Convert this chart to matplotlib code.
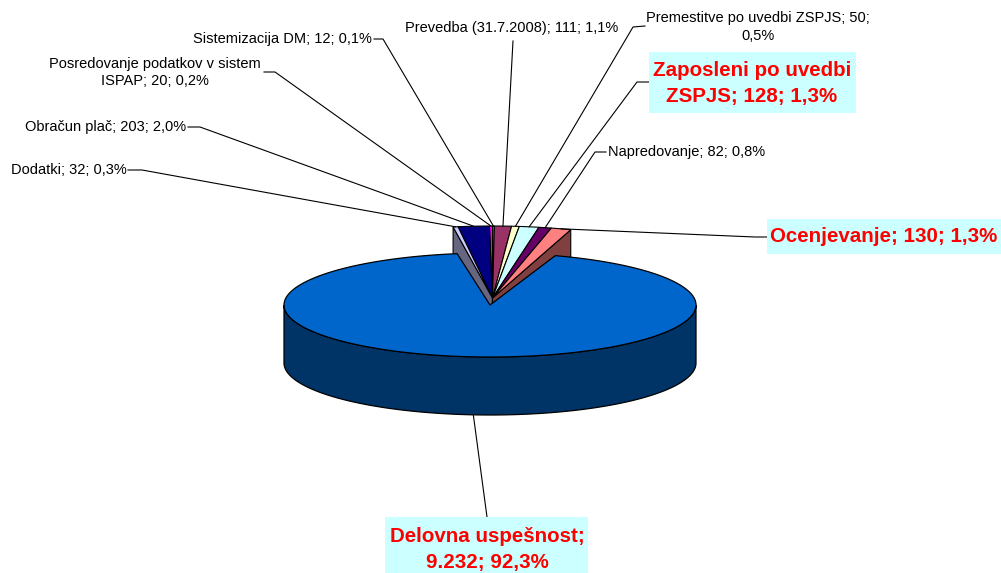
import numpy as np
import matplotlib.pyplot as plt
from matplotlib.patches import Polygon, Rectangle

plt.rcParams['font.family'] = ['Liberation Sans', 'DejaVu Sans']

# podatki - vrstni red kot v Excelu (v smeri urinega kazalca od vrha)
names = ['Sistemizacija DM', 'Prevedba (31.7.2008)', 'Premestitve po uvedbi ZSPJS',
         'Zaposleni po uvedbi ZSPJS', 'Napredovanje', 'Ocenjevanje',
         'Delovna uspešnost', 'Dodatki', 'Obračun plač',
         'Posredovanje podatkov v sistem ISPAP']
values = [12, 111, 50, 128, 82, 130, 9232, 32, 203, 20]
colors = ['#9999FF', '#993366', '#FFFFCC', '#CCFFFF', '#660066', '#FF8080',
          '#0066CC', '#CCCCFF', '#000080', '#FF00FF']
highlight = [False, False, False, True, False, True, True, False, False, False]
breaks = [None, None, '0,5%', 'ZSPJS', None, None, '9.232', None, None, 'ISPAP']

# postavitev oznak (x, y, poravnava) in lomljene povezovalne crte
label_pos = [(372, 39, 'right'), (512, 28, 'center'), (758, 27, 'center'),
             (752, 83.5, 'center'), (608, 152, 'left'), (770, 237, 'left'),
             (487, 549.5, 'center'), (127, 170, 'right'), (186, 127, 'right'),
             (155, 72.5, 'center')]
# okvirji poudarjenih oznak (x0, y0, x1, y1)
boxes = {3: (649, 52, 856, 113), 5: (767, 219, 1001, 254), 6: (385, 517, 588, 573)}
leader_pts = [[(374, 39), (383, 39)], [(513, 41)], [(645, 26), (633, 27)],
              [(649, 82), (637, 82)], [(606, 152), (595, 152)],
              [(767, 237), (755, 237)], [(487, 517)],
              [(128, 170), (142, 170)], [(188, 127), (200, 127)],
              [(264, 72), (275, 72)]]

# geometrija 3D torte (piksli)
cx, cy, a, b, depth = 490, 305, 206, 52, 58      # velik izsek
sx, sy, As, Bs, h = 492.5, 298, 247, 72, 27      # majhni izseki zadaj


def fmt_label(name, v, total):
    num = f"{v:,}".replace(',', '.')
    pct = f"{v / total * 100:.1f}".replace('.', ',')
    return f"{name}; {num}; {pct}%"


def darker(c, f=0.5):
    rgb = np.array(plt.matplotlib.colors.to_rgb(c))
    return tuple(rgb * f)


def arc(x0, y0, ra, rb, t1, t2, n=200, dy=0):
    t = np.radians(np.linspace(t1, t2, n))
    return np.column_stack([x0 + ra * np.sin(t), y0 - rb * np.cos(t) + dy])


total = sum(values)
ends = np.cumsum(values) / total * 360.0
starts = ends - np.array(values) / total * 360.0
# majhni izseki levo od vrha naj imajo negativne kote
shift = starts > 180
starts = np.where(shift, starts - 360, starts)
ends = np.where(shift, ends - 360, ends)
big = int(np.argmax(values))

fig = plt.figure(figsize=(10.01, 5.73), dpi=100)
ax = fig.add_axes([0, 0, 1, 1])
ax.set_xlim(0, 1001)
ax.set_ylim(573, 0)
ax.axis('off')

small = [i for i in range(len(values)) if i != big]
# risanje od sredine navzven
small.sort(key=lambda i: abs((starts[i] + ends[i]) / 2))
for i in small:
    t1, t2 = starts[i], ends[i]
    edge = t2 if (t1 + t2) / 2 > 0 else t1
    e = np.radians(edge)
    p_out = (sx + As * np.sin(e), sy - Bs * np.cos(e))
    wall = [(sx, sy), p_out, (p_out[0], p_out[1] + h), (sx, sy + h)]
    ax.add_patch(Polygon(wall, closed=True, fc=darker(colors[i]), ec='black',
                         lw=0.8, zorder=2))
    top = np.vstack([[sx, sy], arc(sx, sy, As, Bs, t1, t2, 30)])
    ax.add_patch(Polygon(top, closed=True, fc=colors[i], ec='black',
                         lw=0.8, zorder=2))

# velik izsek: stranska stena in zgornja ploskev
wall_top = arc(cx, cy, a, b, 90, 270)
wall_bot = arc(cx, cy, a, b, 270, 90, dy=depth)
ax.add_patch(Polygon(np.vstack([wall_top, wall_bot]), closed=True,
                     fc=darker(colors[big], 0.5), ec='black', lw=0.9, zorder=3))
top = np.vstack([[cx, cy], arc(cx, cy, a, b, starts[big], ends[big])])
ax.add_patch(Polygon(top, closed=True, fc=colors[big], ec='black', lw=0.9, zorder=4))

# oznake in povezovalne crte
for i in range(len(values)):
    mid = np.radians((starts[i] + ends[i]) / 2)
    if i == big:
        end = (cx + a * np.sin(mid), cy - b * np.cos(mid) + depth)
    else:
        end = (sx + As * np.sin(mid), sy - Bs * np.cos(mid))
    pts = leader_pts[i] + [end]
    ax.plot([p[0] for p in pts], [p[1] for p in pts], color='black',
            lw=0.8, zorder=5)

    txt = fmt_label(names[i], values[i], total)
    if breaks[i]:
        txt = txt.replace(' ' + breaks[i], '\n' + breaks[i], 1)
    x, y, ha = label_pos[i]
    if highlight[i]:
        x0, y0, x1, y1 = boxes[i]
        ax.add_patch(Rectangle((x0, y0), x1 - x0, y1 - y0, fc='#CCFFFF',
                               ec='none', zorder=5.5))
        ax.text(x, y, txt, ha=ha, va='center', multialignment='center',
                fontsize=14.8, fontweight='bold', color='#FF0000',
                linespacing=1.45, zorder=6)
    else:
        ax.text(x, y, txt, ha=ha, va='center', multialignment='center',
                fontsize=10.5, color='black', linespacing=1.28, zorder=6)

fig.savefig('out.png', dpi=100)
